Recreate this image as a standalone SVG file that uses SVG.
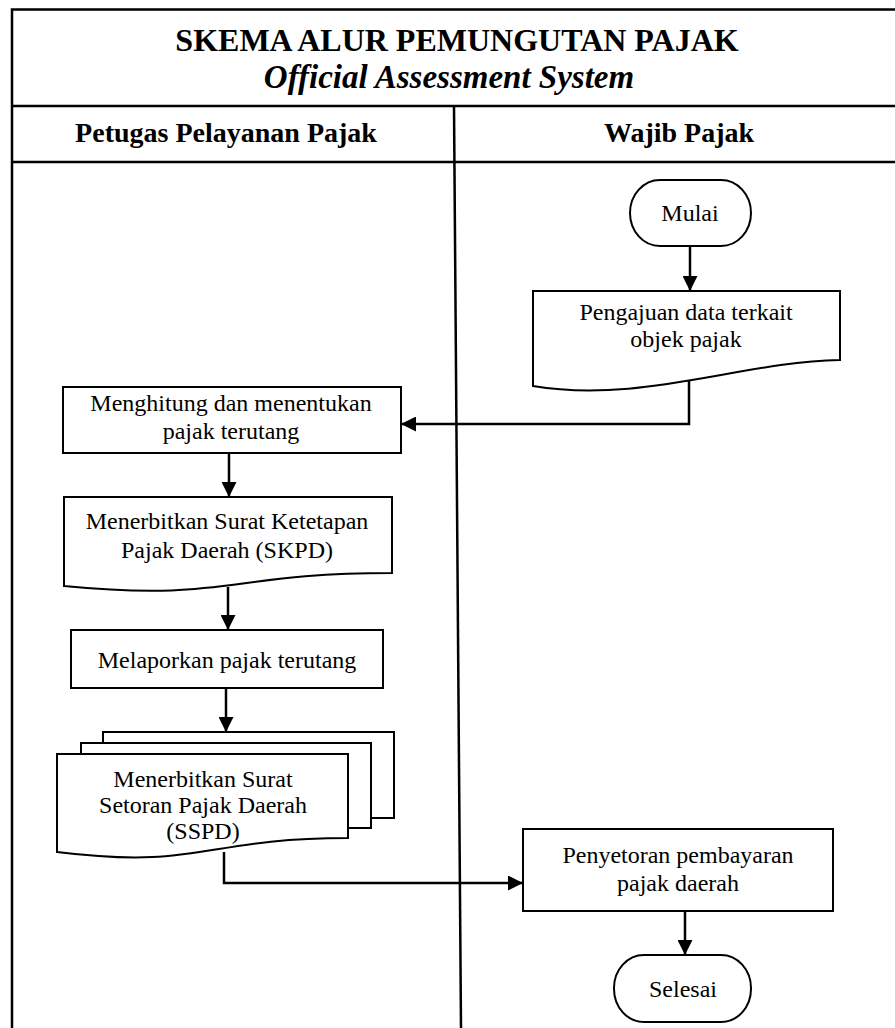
<svg xmlns="http://www.w3.org/2000/svg" width="895" height="1028" viewBox="0 0 895 1028">
<style>
.frame{fill:none;stroke:#000;stroke-width:2.5}
.shape{fill:#fff;stroke:#000;stroke-width:2}
.conn{fill:none;stroke:#000;stroke-width:2.5}
.t{font-family:"Liberation Serif","Times New Roman",serif;font-size:24px;fill:#000;text-anchor:middle}
.title{font-family:"Liberation Serif","Times New Roman",serif;font-size:32px;font-weight:bold;fill:#000;text-anchor:middle}
.sub{font-family:"Liberation Serif","Times New Roman",serif;font-size:33px;font-weight:bold;font-style:italic;fill:#000;text-anchor:middle}
.head{font-family:"Liberation Serif","Times New Roman",serif;font-size:28px;font-weight:bold;fill:#000;text-anchor:middle}
</style>
<defs>
<marker id="arr" viewBox="0 0 10 10" refX="10" refY="5" markerWidth="6" markerHeight="6" markerUnits="strokeWidth" orient="auto">
<path d="M0,0 L10,5 L0,10 Z" fill="#000"/>
</marker>
</defs>
<rect width="895" height="1028" fill="#fff"/>
<g id="frame">
<path class="frame" d="M12,1028 V9.5 H895 M12,106 H895 M12,162 H895"/>
<path class="frame" d="M454,106 L461,1028"/>
<text class="title" x="457" y="51">SKEMA ALUR PEMUNGUTAN PAJAK</text>
<text class="sub" x="449" y="88">Official Assessment System</text>
<text class="head" x="226" y="142">Petugas Pelayanan Pajak</text>
<text class="head" x="679" y="142">Wajib Pajak</text>
</g>
<g id="mulai">
<rect class="shape" x="630" y="180" width="121" height="66" rx="30" ry="33"/>
<text class="t" x="690" y="221">Mulai</text>
</g>
<g id="pengajuan">
<path class="shape" d="M533,291 H840 V360 C740,362 640,404 533,386 Z"/>
<text class="t" x="686" y="320">Pengajuan data terkait</text>
<text class="t" x="686" y="347">objek pajak</text>
</g>
<g id="menghitung">
<rect class="shape" x="63" y="387" width="338" height="66"/>
<text class="t" x="231" y="411">Menghitung dan menentukan</text>
<text class="t" x="231" y="439">pajak terutang</text>
</g>
<g id="skpd">
<path class="shape" d="M64,497 H392 V573 C228,573 228,602 64,586 Z"/>
<text class="t" x="227" y="529">Menerbitkan Surat Ketetapan</text>
<text class="t" x="227" y="558">Pajak Daerah (SKPD)</text>
</g>
<g id="melaporkan">
<rect class="shape" x="71" y="630" width="312" height="58"/>
<text class="t" x="227" y="668">Melaporkan pajak terutang</text>
</g>
<g id="sspd">
<rect class="shape" x="103" y="732" width="291" height="86"/>
<rect class="shape" x="81" y="743" width="290" height="85"/>
<path class="shape" d="M57,754 H348 V838 C202,838 202,870 57,852 Z"/>
<text class="t" x="203" y="787">Menerbitkan Surat</text>
<text class="t" x="203" y="813">Setoran Pajak Daerah</text>
<text class="t" x="203" y="839">(SSPD)</text>
</g>
<g id="penyetoran">
<rect class="shape" x="523" y="829" width="310" height="82"/>
<text class="t" x="678" y="863">Penyetoran pembayaran</text>
<text class="t" x="678" y="891">pajak daerah</text>
</g>
<g id="selesai">
<rect class="shape" x="614" y="955" width="137" height="67" rx="30" ry="33"/>
<text class="t" x="683" y="997">Selesai</text>
</g>
<g id="connectors">
<path class="conn" marker-end="url(#arr)" d="M690,246 V291"/>
<path class="conn" marker-end="url(#arr)" d="M689,381 V424 H401"/>
<path class="conn" marker-end="url(#arr)" d="M229,453 V497"/>
<path class="conn" marker-end="url(#arr)" d="M228,587 V630"/>
<path class="conn" marker-end="url(#arr)" d="M226,688 V732"/>
<path class="conn" marker-end="url(#arr)" d="M224,852 V883 H523"/>
<path class="conn" marker-end="url(#arr)" d="M685,911 V955"/>
</g>
</svg>
